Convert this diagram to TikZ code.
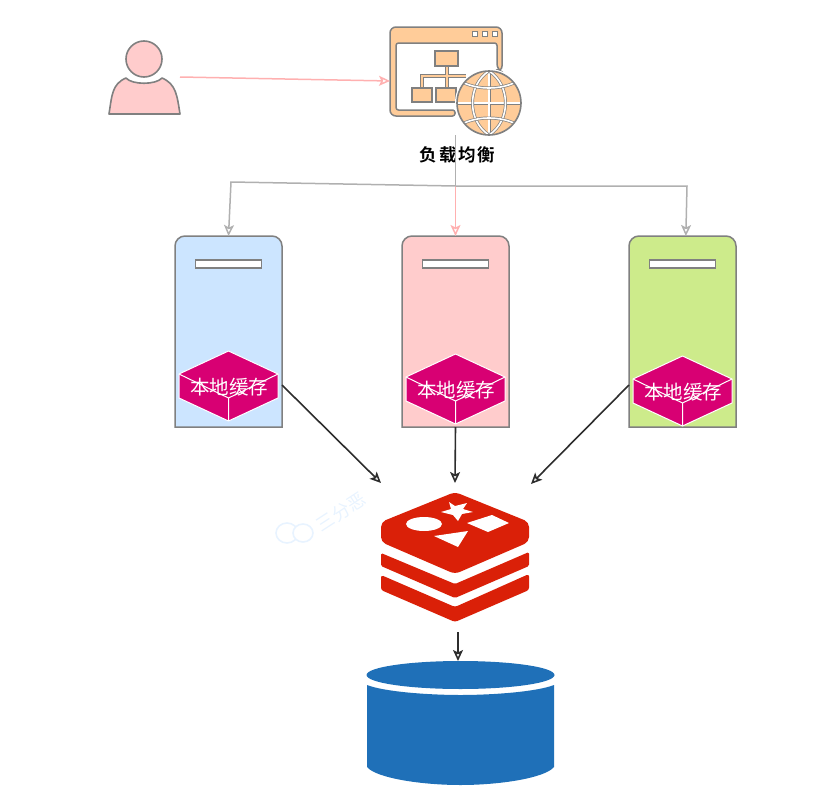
\documentclass[tikz,border=0pt]{standalone}
\usepackage{fontspec}
\newfontfamily\cjk{Noto Sans CJK SC}
\newfontfamily\cjkb[LetterSpace=10]{Noto Sans CJK SC Bold}
\usetikzlibrary{arrows.meta, calc}
\definecolor{edgegray}{RGB}{128,128,128}
\definecolor{srvblue}{RGB}{204,229,255}
\definecolor{srvpink}{RGB}{255,204,204}
\definecolor{srvgreen}{RGB}{205,235,139}
\definecolor{lborange}{RGB}{255,204,153}
\definecolor{cachered}{RGB}{216,0,115}
\definecolor{redisred}{RGB}{218,32,8}
\definecolor{dbblue}{RGB}{31,112,184}
\definecolor{linkpink}{RGB}{255,176,176}
\definecolor{linkgray}{RGB}{176,176,176}
\definecolor{linkdark}{RGB}{45,45,45}
\definecolor{wmblue}{RGB}{232,243,255}
\tikzset{
  hold/.style={inner sep=0pt, outer sep=0pt},
  srvbody/.style={hold, minimum width=107pt, minimum height=191pt},
  slot/.style={hold, draw=edgegray, fill=white, line width=1.4pt, minimum width=66pt, minimum height=8pt},
  cachelabel/.style={hold, text=white, font=\cjk\fontsize{19.5}{21}\selectfont},
  iconline/.style={draw=edgegray, fill=lborange, line width=1.5pt},
  gridline/.style={draw=edgegray, double=white, double distance=1.6pt, line width=.7pt},
  opentip/.style={-{Stealth[open, length=11pt, width=10pt, inset=2.5pt]}},
  linkp/.style={opentip, linkpink, line width=1.5pt},
  linkg/.style={opentip, linkgray, line width=1.5pt},
  linkd/.style={opentip, linkdark, line width=1.6pt}
}
\begin{document}
\begin{tikzpicture}[x=1pt, y=-1pt]
  \useasboundingbox (0,0) rectangle (828,790);
  % user
  \node[hold, minimum width=71pt, minimum height=74pt] (user) at (144.5,77) {};
  \draw[draw=edgegray, fill=srvpink, line width=1.6pt] (144,59) circle (18pt);
  \draw[draw=edgegray, fill=srvpink, line width=1.6pt, line join=round]
    (109,114) .. controls (112,95) and (112,84) .. (126,78)
    .. controls (132,85) and (156,85) .. (162,78)
    .. controls (176,84) and (177,95) .. (180,114) -- cycle;
  % load balancer
  \node[hold, minimum width=131pt, minimum height=108pt] (lb) at (455.5,81) {};
  \draw[iconline, line join=round, rounded corners=2.5pt]
    (497,70) -- (497,43) -- (396,43) -- (396,110) -- (455,110) -- (455,116)
    [rounded corners=6pt] -- (390,116) -- (390,27) -- (502,27) -- (502,72) -- cycle;
  \foreach \bx in {475,485,495} {
    \draw[draw=edgegray, fill=white, line width=1pt] (\bx-2.5,31.5) rectangle (\bx+2.5,36.5);
  }
  \draw[draw=edgegray, double=lborange, double distance=2pt, line width=1.1pt]
    (447,66) -- (447,88) (422,88) -- (422,76) -- (466,76);
  \draw[iconline] (435,51) rectangle (458,66);
  \draw[iconline] (412,88) rectangle (432,102);
  \draw[iconline] (436,88) rectangle (456,102);
  % globe
  \fill[white] (489,103) circle (34pt);
  \begin{scope}
    \clip (489,103) circle (32pt);
    \fill[lborange] (489,103) circle (32pt);
    \draw[gridline] (489,71) -- (489,135) (457,103) -- (521,103);
    \draw[gridline] (489,71) .. controls (467,85) and (467,121) .. (489,135);
    \draw[gridline] (489,71) .. controls (511,85) and (511,121) .. (489,135);
    \draw[gridline] (462,82) .. controls (478,90) and (500,90) .. (516,82);
    \draw[gridline] (462,124) .. controls (478,116) and (500,116) .. (516,124);
  \end{scope}
  \draw[edgegray, line width=1.6pt] (489,103) circle (32pt);
  \node[hold, font=\cjkb\fontsize{17.5}{19}\selectfont] (lbname) at (457.5,155) {负载均衡};
  % servers with their local caches
  \foreach \nm/\cx/\cy/\col in {A/228.5/351/srvblue, B/455.5/354/srvpink, C/682.5/356/srvgreen} {
    \node[srvbody] (srv\nm) at (\cx,331.5) {};
    \draw[draw=edgegray, fill=\col, line width=1.5pt]
      (srv\nm.south west) [rounded corners=10pt] -- (srv\nm.north west) -- (srv\nm.north east)
      [sharp corners] -- (srv\nm.south east) -- cycle;
    \node[slot] (slot\nm) at (\cx,264) {};
    \begin{scope}[shift={(\cx,\cy)}]
      \draw[draw=white, fill=cachered, line width=1pt, line join=round]
        (0,0) -- (49.5,23) -- (49.5,47) -- (0,70) -- (-49.5,47) -- (-49.5,23) -- cycle;
      \draw[white, line width=1pt] (-49.5,23) -- (0,47) -- (49.5,23) (0,47) -- (0,70);
      \node[cachelabel] (cache\nm) at (0.5,36) {本地缓存};
    \end{scope}
  }
  % redis
  \node[hold, minimum width=148pt, minimum height=127pt] (redis) at (455,557.5) {};
  \begin{scope}[redisred]
    \fill[rounded corners=5pt] (455,492) -- (529,522) -- (529,542) -- (455,574) -- (381,542) -- (381,522) -- cycle;
    \fill[rounded corners=1.5pt] (381,553) -- (455,584) -- (529,552) -- (529,566) -- (455,598) -- (381,566) -- cycle;
    \fill[rounded corners=2.5pt] (381,575) -- (455,607) -- (529,574) -- (529,590) -- (455,622) -- (381,590) -- cycle;
  \end{scope}
  \fill[white] (424,524) ellipse (18pt and 7pt);
  \fill[white] (449,502) -- (455,506) -- (467,503) -- (463,509) -- (473,512) -- (462,514)
    -- (458,521) -- (453,515) -- (441,512) -- (451,509) -- cycle;
  \fill[white] (467,523) -- (492,515) -- (509,523) -- (488,532) -- cycle;
  \fill[white] (434,536) -- (468,531) -- (458,547) -- cycle;
  % database
  \node[hold, minimum width=187pt, minimum height=124pt] (db) at (460.5,723) {};
  \fill[dbblue] (367,685) .. controls (385,692) and (430,695) .. (460.5,695)
    .. controls (491,695) and (536,692) .. (554,685) -- (554,767)
    .. controls (545,778) and (500,785) .. (460.5,785)
    .. controls (421,785) and (376,778) .. (367,767) -- cycle;
  \fill[dbblue] (460.5,675) ellipse (94pt and 14pt);
  % watermark
  \begin{scope}[wmblue, line width=1.6pt]
    \draw (287,533) ellipse (11pt and 10pt);
    \draw[fill=white] (303,533) ellipse (10pt and 9pt);
    \node[hold, rotate=33, font=\cjk\fontsize{18}{20}\selectfont] (wmark) at (341,512) {三分恶};
  \end{scope}
  % links
  \coordinate (fork) at (455.5,186);
  \coordinate (redisA) at (381,483);
  \coordinate (redisB) at (455,483);
  \coordinate (redisC) at (531,484);
  \coordinate (redisOut) at (458,632);
  \draw[linkp] (user.east) -- (lb.west);
  \draw[linkp] (lb.south) -- (srvB.north);
  \draw[linkgray, line width=1.5pt] (lb.south) -- (fork);
  \draw[linkg] (fork) -- (231,182) -- (srvA.north);
  \draw[linkg] (fork) -- (687,186) -- (srvC.88);
  \draw[linkd] (srvA.-45) -- (redisA);
  \draw[linkd] (srvB.south) -- (redisB);
  \draw[linkd] (srvC.225) -- (redisC);
  \draw[linkd] (redisOut) -- (redisOut |- db.north);
\end{tikzpicture}
\end{document}
